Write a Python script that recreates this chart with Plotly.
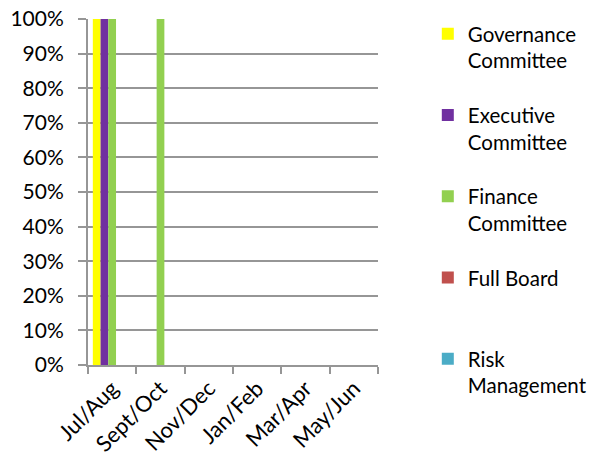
import plotly.graph_objects as go

categories = ["Jul/Aug", "Sept/Oct", "Nov/Dec", "Jan/Feb", "Mar/Apr", "May/Jun"]
governance = [1.0, 0, 0, 0, 0, 0]
executive = [1.0, 0, 0, 0, 0, 0]
finance = [1.0, 1.0, 0, 0, 0, 0]
full_board = [0, 0, 0, 0, 0, 0]
risk = [0, 0, 0, 0, 0, 0]

series = [
    ("Governance<br>Committee", governance, "#FFFF00"),
    ("Executive<br>Committee", executive, "#7030A0"),
    ("Finance<br>Committee", finance, "#92D050"),
    ("Full Board<br> ", full_board, "#C0504D"),
    ("Risk<br>Management", risk, "#4BACC6"),
]

FONT = "Lato"
fig = go.Figure()
for i, (name, vals, color) in enumerate(series):
    fig.add_trace(go.Bar(x=categories, y=vals, name=name, marker_color=color,
                         marker_line_width=0, legendgroup=str(i)))

fig.update_layout(
    width=595, height=460,
    margin=dict(l=88, r=217, t=19, b=95),
    paper_bgcolor="white", plot_bgcolor="white",
    barmode="group", bargap=0.2, bargroupgap=0,
    font=dict(family=FONT, size=21, color="#000000"),
    showlegend=True,
    legend=dict(xref="container", yref="container", x=0.719, y=0.97,
                xanchor="left", yanchor="top", valign="top",
                traceorder="grouped", tracegroupgap=25, maxheight=1.0,
                font=dict(family=FONT, size=20.5, color="#000000"),
                itemwidth=30, bgcolor="rgba(0,0,0,0)"),
)
fig.update_xaxes(
    showline=True, linecolor="#969696", linewidth=2,
    ticks="outside", tickson="boundaries", ticklen=7, tickcolor="#969696", tickwidth=2,
    tickangle=-45, tickfont=dict(family=FONT, size=22),
    showgrid=False, zeroline=False, automargin=False,
)
fig.update_yaxes(
    range=[0, 1], dtick=0.1, tickformat=".0%",
    showline=True, linecolor="#969696", linewidth=2,
    ticks="outside", ticklen=8, tickcolor="#969696", tickwidth=2,
    showgrid=True, gridcolor="#969696", gridwidth=2, zeroline=False,
    tickfont=dict(family=FONT, size=21), ticklabelstandoff=10, automargin=False,
)

fig.write_html("out.html")
